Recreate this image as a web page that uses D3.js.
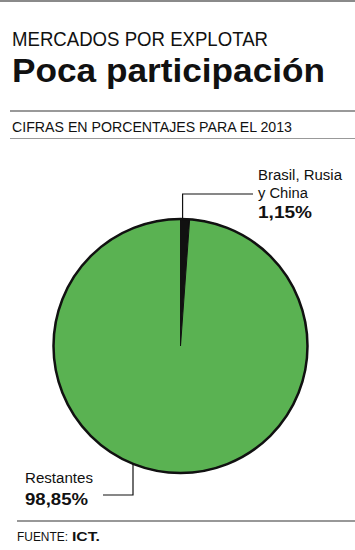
<!DOCTYPE html>
<html>
<head>
<meta charset="utf-8">
<script src="https://cdn.jsdelivr.net/npm/d3@7"></script>
<style>
html,body{margin:0;padding:0;background:#fff;}
svg{display:block;}
text{font-family:"Liberation Sans",Arial,Helvetica,sans-serif;fill:#111;}
</style>
</head>
<body>
<svg id="chart" width="355" height="550"></svg>
<script>
// Data
const categories = ["Brasil, Rusia y China", "Restantes"];
const values = [1.15, 98.85];
const labelLines = [["Brasil, Rusia", "y China"], ["Restantes"]];
const valueLabels = ["1,15%", "98,85%"];
const colors = ["#111111", "#5ab252"];

const svg = d3.select("#chart");
const W = 355, H = 550;

function txt(x, y, s, size, weight, len, fill) {
  const t = svg.append("text").attr("x", x).attr("y", y).text(s)
    .style("font-size", size + "px").style("font-weight", weight || "normal");
  if (len) t.attr("textLength", len).attr("lengthAdjust", "spacingAndGlyphs");
  if (fill) t.style("fill", fill);
  return t;
}

// Rules
svg.append("line").attr("x1", 0).attr("x2", W).attr("y1", 1).attr("y2", 1).attr("stroke", "#8a8a8a").attr("stroke-width", 2);
svg.append("line").attr("x1", 10).attr("x2", W).attr("y1", 111).attr("y2", 111).attr("stroke", "#777").attr("stroke-width", 1.5);
svg.append("line").attr("x1", 10).attr("x2", W).attr("y1", 138.5).attr("y2", 138.5).attr("stroke", "#999").attr("stroke-width", 1);
svg.append("line").attr("x1", 17).attr("x2", W).attr("y1", 521).attr("y2", 521).attr("stroke", "#333").attr("stroke-width", 1.2);

// Titles
txt(12, 46, "MERCADOS POR EXPLOTAR", 21, "normal", 256);
txt(12, 82, "Poca participación", 34, "bold", 313);
txt(12, 132, "CIFRAS EN PORCENTAJES PARA EL 2013", 15, "normal", 280);

// Pie
const cx = 180.5, cy = 346, r = 127;
const pie = d3.pie().sort(null).startAngle(0).endAngle(2 * Math.PI)(values);
const arc = d3.arc().innerRadius(0).outerRadius(r);
const g = svg.append("g").attr("transform", `translate(${cx},${cy})`);
g.selectAll("path").data(pie).join("path")
  .attr("d", arc)
  .attr("fill", (d, i) => colors[i])
  .attr("stroke", "#111").attr("stroke-width", 1);
g.append("circle").attr("r", r).attr("fill", "none").attr("stroke", "#111").attr("stroke-width", 2.5);

// Leader for small slice
const a0 = (pie[0].startAngle + pie[0].endAngle) / 2;
const px0 = cx + r * Math.sin(a0) - 2.5;
const py0 = cy - r * Math.cos(a0);
svg.append("polyline")
  .attr("points", [[px0, py0], [px0, 194], [253, 194]].map(p => p.join(",")).join(" "))
  .attr("fill", "none").attr("stroke", "#111").attr("stroke-width", 1.2);
txt(258, 180, labelLines[0][0], 15.5, "normal", 84);
txt(258, 198, labelLines[0][1], 15.5, "normal", 50);
txt(258, 218, valueLabels[0], 17, "bold", 54);

// Leader for large slice
const lx = 133;
const ly = cy + Math.sqrt(r * r - (lx - cx) * (lx - cx));
svg.append("polyline")
  .attr("points", [[lx, ly], [lx, 495], [103, 495]].map(p => p.join(",")).join(" "))
  .attr("fill", "none").attr("stroke", "#111").attr("stroke-width", 1.2);
txt(25, 483, labelLines[1][0], 15.5, "normal", 68);
txt(25, 505, valueLabels[1], 17, "bold", 63);

// Source
txt(17, 541, "FUENTE:", 13, "normal", 51);
txt(72, 541, "ICT.", 13, "bold", 28);
</script>
</body>
</html>
